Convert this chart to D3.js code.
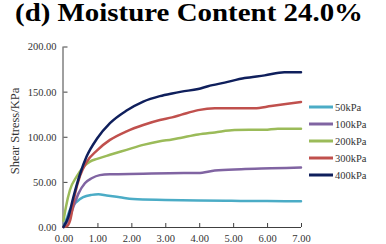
<!DOCTYPE html>
<html><head><meta charset="utf-8">
<script src="https://cdn.jsdelivr.net/npm/d3@7"></script>
<style>html,body{margin:0;padding:0;background:#fff;}svg{display:block;}</style>
</head><body>
<svg id="c" width="386" height="244"></svg>
<script>
const title = "(d) Moisture Content 24.0%";
const yLabel = "Shear Stress/KPa";
const xTicks = [0,1,2,3,4,5,6,7];
const yTicks = [0,50,100,150,200];
const seriesNames = ["50kPa","100kPa","200kPa","300kPa","400kPa"];
const seriesColors = ["#4bacc6","#8064a2","#9bbb59","#c0504d","#0f1f5c"];
const s50 = [[0,0],[0.1,10],[0.19,19],[0.39,28],[0.58,33],[0.83,35.6],[1.03,36.3],[1.27,35],[1.66,33],[2.05,31],[3.0,30],[3.97,29.3],[4.95,29],[6.0,28.7],[7.0,28.5]];
const s100 = [[0,0],[0.15,8],[0.29,22],[0.44,37],[0.63,48.5],[0.83,54],[1.07,57.5],[1.37,58.5],[2.35,59],[3.13,59.6],[3.97,59.8],[4.46,62.5],[5.24,64],[6.12,65],[7.0,66]];
const s200 = [[0,7],[0.07,22],[0.19,41],[0.39,56],[0.58,66.5],[0.78,72.5],[0.99,75.5],[1.37,80],[1.86,85.5],[2.35,91],[2.84,95],[3.2,97],[3.48,99],[3.97,102.5],[4.46,104.8],[5.04,107.5],[5.93,107.8],[6.32,109],[7.0,109]];
const s300 = [[0,0],[0.1,1],[0.2,8],[0.34,37],[0.49,57],[0.68,72],[0.99,85],[1.37,96.5],[1.86,106],[2.35,113],[2.84,118.5],[3.2,121.5],[3.48,124.5],[3.97,129.5],[4.46,131.5],[4.95,131.5],[5.63,131.5],[6.12,134],[7.0,138.5]];
const s400 = [[0,0],[0.14,11],[0.29,33],[0.49,59],[0.68,78],[0.99,98],[1.37,115],[1.86,129],[2.35,139],[2.84,145],[3.2,148],[3.48,150],[3.97,153],[4.26,156],[4.75,160],[5.34,165],[5.93,168],[6.51,171.5],[7.0,171.5]];
const allSeries = [s50, s100, s200, s300, s400];

const svg = d3.select("#c");
const x = d3.scaleLinear().domain([0,7]).range([63.5,301]);
const y = d3.scaleLinear().domain([0,200]).range([227,46.5]);
const axisColor = "#404040";
const serif = "Liberation Serif, Times New Roman, serif";

svg.append("text").attr("x",189).attr("y",21)
  .attr("text-anchor","middle").style("font-family",serif).attr("font-weight","bold")
  .attr("font-size",25).attr("textLength",348).attr("lengthAdjust","spacingAndGlyphs")
  .attr("fill","#000").text(title);

// Y axis
const ya = svg.append("g").attr("transform",`translate(${x(0)},0)`)
  .call(d3.axisLeft(y).tickValues(yTicks).tickSize(-4).tickPadding(7).tickFormat(d3.format(".2f")));
ya.select(".domain").attr("stroke",axisColor).attr("d",`M-0.5,${y(200)}V${y(0)}`);
ya.selectAll(".tick line").attr("stroke",axisColor);
ya.selectAll(".tick text").style("font-family",serif).attr("font-size",10.5).attr("fill","#333");

// X axis
const xa = svg.append("g").attr("transform",`translate(0,${y(0)})`)
  .call(d3.axisBottom(x).tickValues(xTicks).tickSize(-4).tickPadding(8).tickFormat(d3.format(".2f")));
xa.select(".domain").attr("stroke",axisColor).attr("d",`M${x(0)},0.5H${x(7)}`);
xa.selectAll(".tick line").attr("stroke",axisColor);
xa.selectAll(".tick text").style("font-family",serif).attr("font-size",10.5).attr("fill","#333");

svg.append("text").attr("transform","translate(19,131) rotate(-90)")
  .attr("text-anchor","middle").style("font-family",serif).attr("font-size",12.5)
  .attr("fill","#333").text(yLabel);

const line = d3.line().x(d=>x(d[0])).y(d=>y(d[1])).curve(d3.curveMonotoneX);
allSeries.forEach((s,i)=>{
  svg.append("path").datum(s).attr("d",line).attr("fill","none")
    .attr("stroke",seriesColors[i]).attr("stroke-width",2.5).attr("stroke-linejoin","round").attr("stroke-linecap","round");
});

// Legend
const lg = svg.append("g");
seriesNames.forEach((n,i)=>{
  const yy = 107 + i*17;
  lg.append("line").attr("x1",309).attr("x2",333).attr("y1",yy).attr("y2",yy)
    .attr("stroke",seriesColors[i]).attr("stroke-width",3);
  lg.append("text").attr("x",335).attr("y",yy).attr("dy","0.35em")
    .style("font-family",serif).attr("font-size",10.5).attr("fill","#333").text(n);
});
</script>
</body></html>
